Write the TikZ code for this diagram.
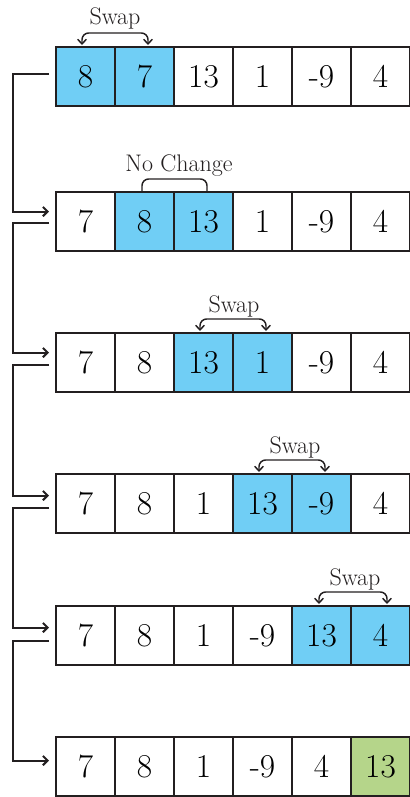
\documentclass[tikz,border=0pt]{standalone}
\usepackage{tikz}
\usetikzlibrary{calc,arrows.meta}

\definecolor{swapblue}{RGB}{112,206,245}
\definecolor{sortgreen}{RGB}{181,213,138}
\definecolor{inkgrey}{RGB}{35,31,32}

\tikzset{
  cell/.style={draw=inkgrey, line width=1.5pt, minimum size=44.25pt, inner sep=0pt, outer sep=0pt,
    font=\fontsize{25}{29}\selectfont},
  note/.style={anchor=base, inner sep=0pt, text=inkgrey, font=\fontsize{18}{21}\selectfont},
  swaplink/.style={draw=inkgrey, line width=1.1pt, rounded corners=5pt,
    {Straight Barb[length=3.5pt,width=6.5pt]}-{Straight Barb[length=3.5pt,width=6.5pt]}},
  samelink/.style={draw=inkgrey, line width=1.1pt, rounded corners=5pt},
  pass/.style={draw=inkgrey, line width=1.5pt, -{Straight Barb[length=3.5pt,width=7pt]}}
}

\begin{document}
\begin{tikzpicture}[x=0.75pt,y=0.75pt,yscale=-1,xscale=1]
\useasboundingbox (0,0) rectangle (410,797);

% Rows of the list, one per pass
\foreach \v/\c [count=\i] in {8/swapblue,7/swapblue,13/white,1/white,-9/white,4/white}
  \node[cell,fill=\c] (ra\i) at ({26.5+59*\i},76.5) {\v};
\foreach \v/\c [count=\i] in {7/white,8/swapblue,13/swapblue,1/white,-9/white,4/white}
  \node[cell,fill=\c] (rb\i) at ({26.5+59*\i},221.5) {\v};
\foreach \v/\c [count=\i] in {7/white,8/white,13/swapblue,1/swapblue,-9/white,4/white}
  \node[cell,fill=\c] (rc\i) at ({26.5+59*\i},362.5) {\v};
\foreach \v/\c [count=\i] in {7/white,8/white,1/white,13/swapblue,-9/swapblue,4/white}
  \node[cell,fill=\c] (rd\i) at ({26.5+59*\i},503.5) {\v};
\foreach \v/\c [count=\i] in {7/white,8/white,1/white,-9/white,13/swapblue,4/swapblue}
  \node[cell,fill=\c] (re\i) at ({26.5+59*\i},635.5) {\v};
\foreach \v/\c [count=\i] in {7/white,8/white,1/white,-9/white,4/white,13/sortgreen}
  \node[cell,fill=\c] (rf\i) at ({26.5+59*\i},766.5) {\v};

% Swap 8 and 7
\draw[swaplink] ($(ra1.north east)+(-33,-2)$) -- ++(0,-12) -| ($(ra1.north east)+(33,-2)$);
\node[note] (swapa) at ($(ra1.north east)+(0,-23)$) {Swap};

% 8 and 13 stay
\draw[samelink] ($(rb2.north east)+(-32,0)$) -- ++(0,-13) -| ($(rb2.north east)+(33,0)$);
\node[note] (keepb) at ($(rb2.north east)+(5,-21)$) {No Change};

% Swap 13 and 1
\draw[swaplink] ($(rc3.north east)+(-33,-2)$) -- ++(0,-12) -| ($(rc3.north east)+(33,-2)$);
\node[note] (swapc) at ($(rc3.north east)+(1,-21)$) {Swap};

% Swap 13 and -9
\draw[swaplink] ($(rd4.north east)+(-33,-2)$) -- ++(0,-12) -| ($(rd4.north east)+(33,-2)$);
\node[note] (swapd) at ($(rd4.north east)+(3,-21)$) {Swap};

% Swap 13 and 4
\draw[swaplink] ($(re5.north east)+(-32,-2)$) -- ++(0,-12) -| ($(re5.north east)+(36,-2)$);
\node[note] (swape) at ($(re5.north east)+(4,-21)$) {Swap};

% Ends of the flow lines
\coordinate (outa) at ($(ra1.west)+(-7,-3)$);
\coordinate (inb)  at ($(rb1.west)+(-7,-10)$);
\coordinate (outb) at ($(rb1.west)+(-7,1)$);
\coordinate (inc)  at ($(rc1.west)+(-7,-10)$);
\coordinate (outc) at ($(rc1.west)+(-7,2)$);
\coordinate (ind)  at ($(rd1.west)+(-7,-8)$);
\coordinate (outd) at ($(rd1.west)+(-7,4)$);
\coordinate (ine)  at ($(re1.west)+(-7,-8)$);
\coordinate (oute) at ($(re1.west)+(-7,5)$);
\coordinate (inf)  at ($(rf1.west)+(-7,-6)$);

% Flow from pass to pass
\draw[pass] (outa) -- ++(-36,0) |- (inb);
\draw[pass] (outb) -- ++(-36,0) |- (inc);
\draw[pass] (outc) -- ++(-36,0) |- (ind);
\draw[pass] (outd) -- ++(-36,0) |- (ine);
\draw[pass] (oute) -- ++(-36,0) |- (inf);
\end{tikzpicture}
\end{document}
